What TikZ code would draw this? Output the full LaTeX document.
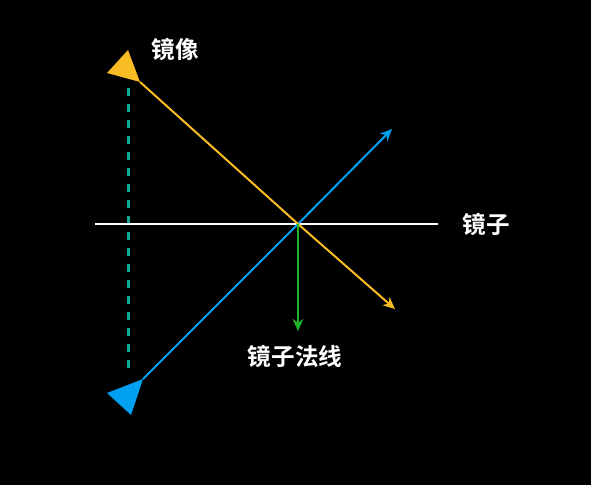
\documentclass[tikz,border=0pt]{standalone}
\usepackage{fontspec}
\newfontfamily\cjk{Noto Sans CJK SC Bold}
\usetikzlibrary{arrows.meta}

\definecolor{imgyellow}{RGB}{250,188,36}
\definecolor{imgblue}{RGB}{0,160,240}
\definecolor{imgteal}{RGB}{16,170,150}
\definecolor{imggreen}{RGB}{30,180,40}

\tikzset{
  ray/.style={line width=1.5, -{Stealth[length=9,width=8]}},
  lbl/.style={text=white, inner sep=0.75pt, font=\cjk\fontsize{17.7}{20}\selectfont},
}

\begin{document}
\begin{tikzpicture}[x=0.75pt,y=0.75pt,yscale=-1]
%Background
\fill[black] (0,0) rectangle (591,485);
\useasboundingbox (0,0) rectangle (591,485);

%Points
\coordinate (O) at (298,224);
\coordinate (ML) at (95,224);
\coordinate (MR) at (438,224);
\coordinate (imgtip) at (140,82);
\coordinate (yend) at (395,309);
\coordinate (objtip) at (143,379);
\coordinate (bend) at (392,129);
\coordinate (nend) at (298,331);
\coordinate (dtop) at (128,88);
\coordinate (dbot) at (128,375);

%Dashed line
\draw [imgteal, line width=2.25, dash pattern=on 6 off 6] (dtop) -- (dbot);
%Mirror
\draw [white, line width=1.5] (ML) -- (MR);
%Blue ray
\draw [imgblue, ray] (objtip) -- (O) -- (bend);
%Yellow ray
\draw [imgyellow, ray] (imgtip) -- (O) -- (yend);
%Normal
\draw [imggreen, ray] (O) -- (nend);

%Shape: Triangles
\fill [imgyellow] (107,73) -- (128,50) -- (imgtip) -- cycle;
\fill [imgblue] (107,393) -- (objtip) -- (131,415) -- cycle;

% Text Node
\node [lbl] (image) at (175,49) {镜像};
\node [lbl] (mirror) at (486,224) {镜子};
\node [lbl] (normal) at (295,356) {镜子法线};
\end{tikzpicture}
\end{document}
